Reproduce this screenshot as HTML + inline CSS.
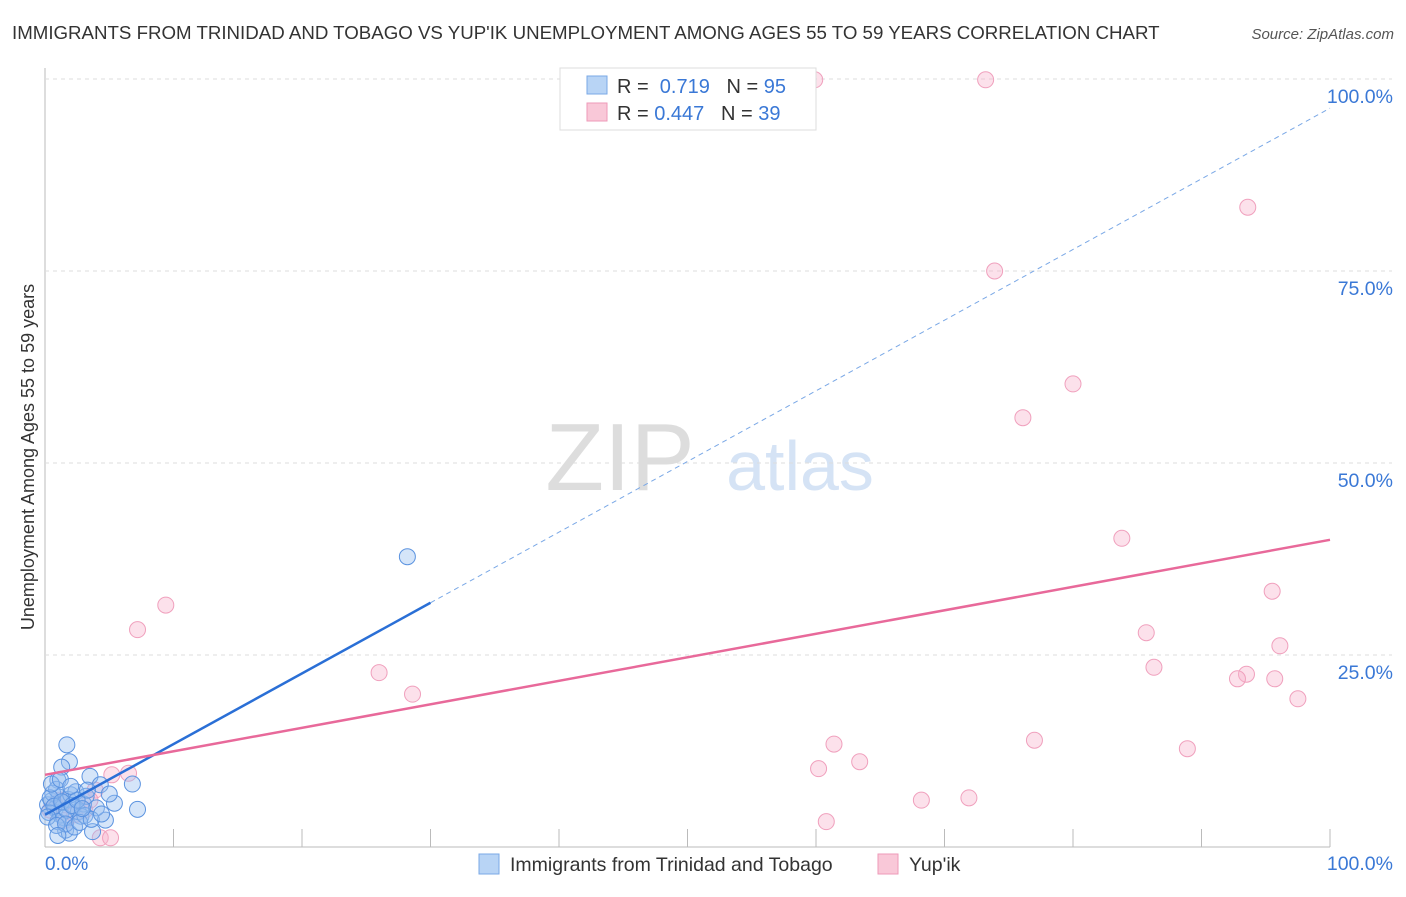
<!DOCTYPE html>
<html><head><meta charset="utf-8"><style>
body{margin:0;background:#fff;font-family:"Liberation Sans",sans-serif}
svg text{font-family:"Liberation Sans",sans-serif}
</style></head><body>
<svg id="c" width="1406" height="892">
<text x="12" y="39" font-size="18.7" fill="#333">IMMIGRANTS FROM TRINIDAD AND TOBAGO VS YUP'IK UNEMPLOYMENT AMONG AGES 55 TO 59 YEARS CORRELATION CHART</text>
<text x="1394" y="39" font-size="15" fill="#555" text-anchor="end" font-style="italic">Source: ZipAtlas.com</text>
<text x="620" y="490" font-size="96" fill="#ddd" font-family="Liberation Serif" text-anchor="middle">ZIP</text>
<text x="800" y="490" font-size="70" fill="#d5e3f5" text-anchor="middle">atlas</text>
<text transform="translate(34,457) rotate(-90)" font-size="18" fill="#333" text-anchor="middle">Unemployment Among Ages 55 to 59 years</text>
<g id="grid"></g><g id="pts"></g><g id="lines"></g>
<g>
<rect x="560" y="68" width="256" height="62" fill="#fff" stroke="#ddd"/>
<rect x="587" y="76" width="20" height="18" fill="#b8d4f5" stroke="#7aa8e6"/>
<rect x="587" y="103" width="20" height="18" fill="#f9c8d8" stroke="#ee9ab8"/>
<text x="617" y="93" font-size="20" fill="#333">R = <tspan fill="#3a78d6">&#160;0.719</tspan>&#160;&#160;&#160;N = <tspan fill="#3a78d6">95</tspan></text>
<text x="617" y="120" font-size="20" fill="#333">R = <tspan fill="#3a78d6">0.447</tspan>&#160;&#160;&#160;N = <tspan fill="#3a78d6">39</tspan></text>
</g>
<g>
<rect x="479" y="854" width="20" height="20" fill="#b8d4f5" stroke="#7aa8e6"/>
<text x="510" y="871" font-size="19.5" fill="#333">Immigrants from Trinidad and Tobago</text>
<rect x="878" y="854" width="20" height="20" fill="#f9c8d8" stroke="#ee9ab8"/>
<text x="909" y="871" font-size="19.5" fill="#333">Yup'ik</text>
</g>
</svg>
<script>
const yTicks=[25,50,75,100];
const yTickLabels=["25.0%","50.0%","75.0%","100.0%"];
const blueX=[28.2,1.7,1.9,1.3,3.5,6.8,4.3,1.0,5.4,7.2,4.7,1.6,1.9,3.7,0.2,0.5,0.8,1.1,1.4,1.8,2.2,2.6,3.0,0.3,0.6,0.9,1.2,1.5,2.0,2.4,2.8,3.2,0.4,0.7,1.0,1.3,1.7,2.1,2.5,3.3,4.0,0.2,0.9,1.6,2.3,3.1,0.5,1.2,2.7,3.6,4.4,5.0,1.0,2.0,2.9];
const blueY=[37.8,13.3,11.1,10.4,9.2,8.2,8.1,8.7,5.7,4.9,3.5,2.2,1.8,2.0,5.5,6.0,5.0,6.5,5.8,6.2,5.2,4.6,5.6,4.5,7.0,7.5,4.2,3.8,6.8,7.2,4.0,6.6,6.4,5.3,3.3,5.9,4.8,5.4,6.1,7.4,5.1,3.9,2.8,3.0,2.6,4.1,8.2,8.8,3.2,3.6,4.3,6.9,1.5,7.9,5.0];
const pinkX=[59.9,73.2,93.6,73.9,80.0,76.1,83.8,95.5,85.7,96.1,86.3,93.5,92.8,95.7,97.5,88.9,77.0,61.4,63.4,60.2,68.2,71.9,60.8,9.4,7.2,26.0,28.6,6.5,5.2,3.9,1.2,0.4,2.3,3.1,4.3,5.1,0.8,1.6,3.5];
const pinkY=[99.9,99.9,83.3,75.0,60.3,55.9,40.2,33.3,27.9,26.2,23.4,22.5,21.9,21.9,19.3,12.8,13.9,13.4,11.1,10.2,6.1,6.4,3.3,31.5,28.3,22.7,19.9,9.6,9.4,7.4,6.1,4.8,4.2,4.8,1.2,1.2,5.5,3.5,6.1];
const blueFit=[4.2,96.2], pinkFit=[9.4,40.0];
const X=v=>45+v*12.85, Y=v=>847-v*7.68;
const NS="http://www.w3.org/2000/svg";
function mk(t,a,p){const e=document.createElementNS(NS,t);for(const k in a)e.setAttribute(k,a[k]);p.appendChild(e);return e;}
const g=document.getElementById('grid');
let ax=mk('line',{x1:45,y1:68,x2:45,y2:847,stroke:'#bbb'},g);


let bx=mk('line',{x1:45,y1:847,x2:1330,y2:847,stroke:'#bbb'},g);


for(let i=0;i<=10;i++){let t=mk('line',{x1:X(i*10),x2:X(i*10),y1:829,y2:847,stroke:'#bbb'},g);

}
yTicks.forEach((v,i)=>{let l=mk('line',{x1:45,x2:1392,y1:Y(v),y2:Y(v),stroke:'#ddd','stroke-dasharray':'4,4'},g);


let t=mk('text',{x:1393,y:Y(v)+24,'font-size':19.5,fill:'#3a78d6','text-anchor':'end'},g);t.textContent=yTickLabels[i];

});
let t0=mk('text',{x:45,y:870,'font-size':19,fill:'#3a78d6'},g);t0.textContent='0.0%';


let t1=mk('text',{x:1393,y:870,'font-size':19.5,fill:'#3a78d6','text-anchor':'end'},g);t1.textContent='100.0%';


const p=document.getElementById('pts');
pinkX.forEach((x,i)=>{let c=mk('circle',{cx:X(x),cy:Y(pinkY[i]),r:8,fill:'rgba(248,180,205,0.4)',stroke:'#f0a0bd','stroke-width':1},p);

});
blueX.forEach((x,i)=>{let c=mk('circle',{cx:X(x),cy:Y(blueY[i]),r:8,fill:'rgba(150,190,240,0.4)',stroke:'#5b93e0','stroke-width':1},p);

});
const L=document.getElementById('lines');
const bf=x=>blueFit[0]+(blueFit[1]-blueFit[0])*x/100, pf=x=>pinkFit[0]+(pinkFit[1]-pinkFit[0])*x/100;
let l1=mk('line',{x1:X(0),y1:Y(bf(0)),x2:X(30),y2:Y(bf(30)),stroke:'#2a6fd6','stroke-width':2.5},L);


let l2=mk('line',{x1:X(30),y1:Y(bf(30)),x2:X(100),y2:Y(bf(100)),stroke:'#7aa8e6','stroke-width':1,'stroke-dasharray':'5,4'},L);


let l3=mk('line',{x1:X(0),y1:Y(pf(0)),x2:X(100),y2:Y(pf(100)),stroke:'#e8699a','stroke-width':2.5},L);


</script>
</body></html>
